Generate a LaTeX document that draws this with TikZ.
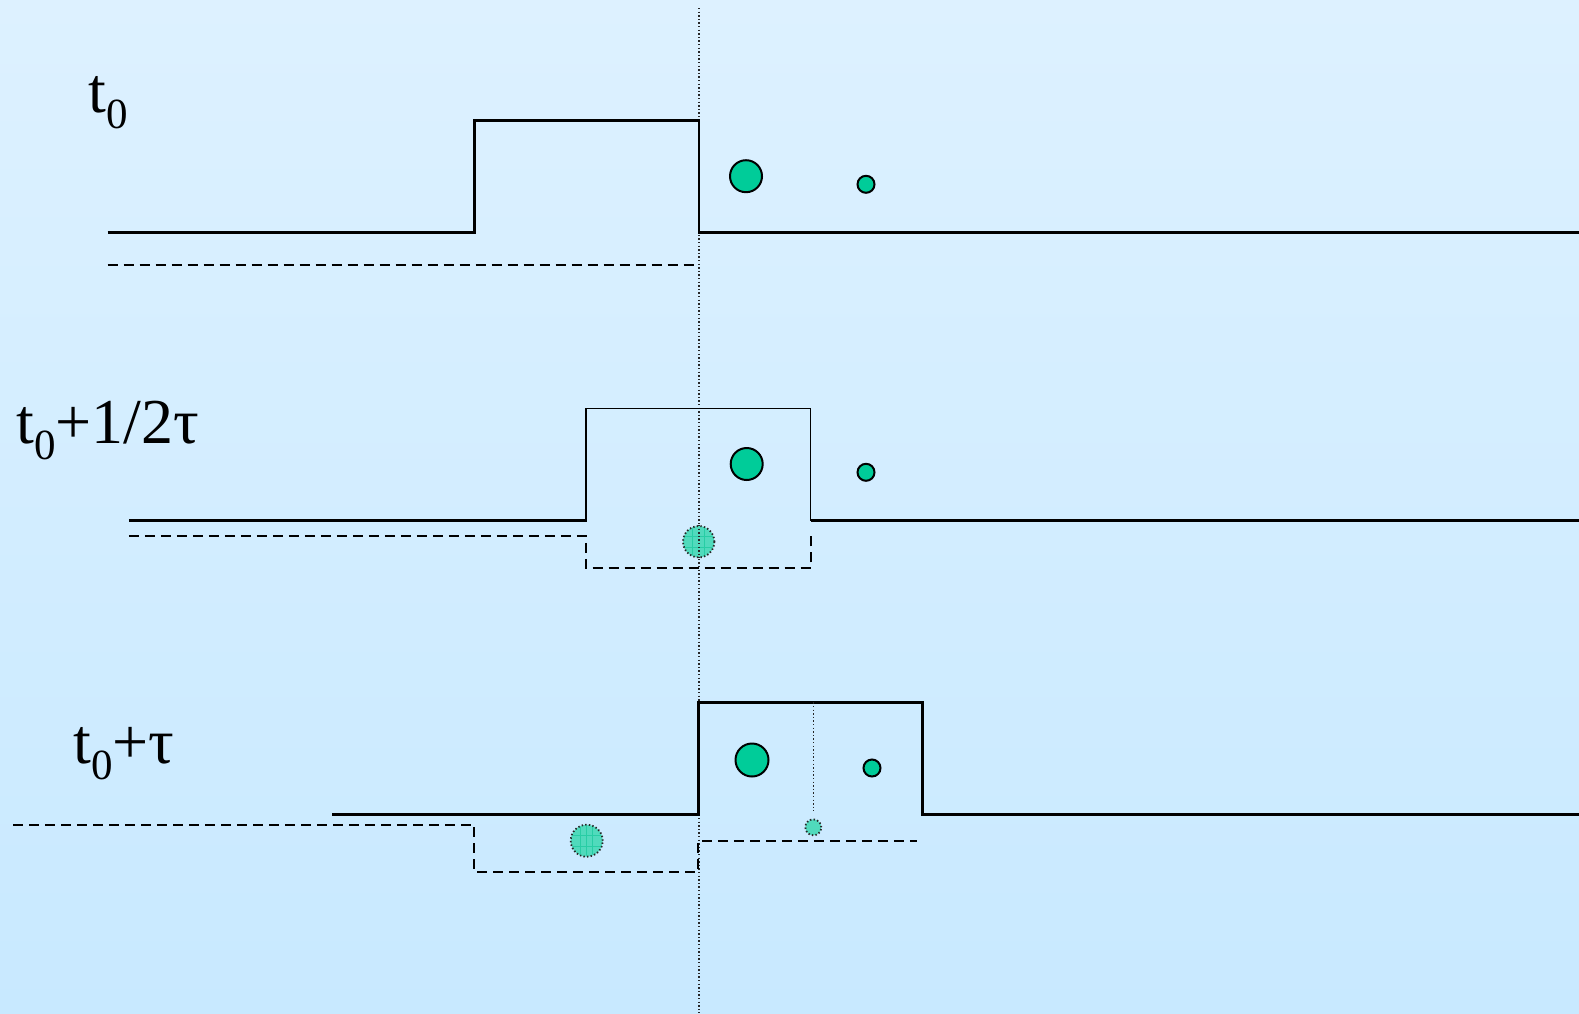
\documentclass[tikz,border=0pt]{standalone}
\usepackage{fontspec}
\setmainfont{Liberation Serif}
\begin{document}
\begin{tikzpicture}[x=0.5pt,y=-0.5pt,
  pulse/.style={line width=1.35pt,black},
  thinpulse/.style={line width=0.7pt,black},
  dashline/.style={line width=0.95pt,black,dash pattern=on 5pt off 3pt},
  guide/.style={line width=0.6pt,black!85,dash pattern=on 0.7pt off 1.1pt},
  ball/.style={circle,draw=black,line width=1pt,fill={rgb,255:red,0;green,204;blue,153},inner sep=0pt},
  ghost/.style={circle,draw=black!85,line width=0.9pt,dash pattern=on 0.7pt off 1.1pt,fill={rgb,255:red,80;green,218;blue,188},inner sep=0pt},
  gridl/.style={line width=0.4pt,color={rgb,255:red,40;green,205;blue,165}},
  lbl/.style={anchor=base west,inner sep=0pt,font=\fontsize{32}{32}\selectfont}
]
\definecolor{bgtop}{RGB}{221,241,255}
\definecolor{bgbot}{RGB}{200,233,255}
\useasboundingbox (0,0) rectangle (1579,1013);
\shade[top color=bgtop,bottom color=bgbot] (0,0) rectangle (1579,1013);

\newcommand{\sub}[1]{\raisebox{-0.26em}{\fontsize{21.5}{21.5}\selectfont #1}}

% labels
\node[lbl] (l1) at (88,112) {t\sub{0}};
\node[lbl] (l2) at (16,443) {t\sub{0}+1/2τ};
\node[lbl] (l3) at (73,763) {t\sub{0}+τ};

% vertical guide
\draw[guide] (699,8) -- (699,1013);

% ---- t0 ----
\draw[pulse] (107.7,232.6) -| (474.3,120.8) -| (698.9,232.6) -- (1579,232.6);
\draw[dashline] (107.7,264.8) -- (698.9,264.8);
\node[ball,minimum size=16pt] (b1) at (746,176.2) {};
\node[ball,minimum size=8.5pt] (s1) at (866,184.3) {};

% ---- t0 + 1/2 tau ----
\draw[pulse] (128.9,520.7) -| (586,408.3);
\draw[thinpulse] (586,408.3) -| (810.7,520.7);
\draw[pulse] (810.7,520.7) -- (1579,520.7);
\draw[dashline] (128.9,536) -- (586,536) -- (586,568.3) -- (810.7,568.3) -- (810.7,536);
\node[ghost,minimum size=15.7pt] (g2) at (698.7,541.7) {};
\begin{scope}
\clip (698.7,541.7) circle [radius=7.4pt];
\draw[gridl] (692.7,520) -- (692.7,565) (704.7,520) -- (704.7,565) (675,536.2) -- (722,536.2) (675,547.2) -- (722,547.2);
\end{scope}
\draw[guide] (699,525) -- (699,558);
\node[ball,minimum size=16pt] (b2) at (746.7,464) {};
\node[ball,minimum size=8.5pt] (s2) at (866,472.3) {};

% ---- t0 + tau ----
\draw[pulse] (332.3,814.3) -- (698.3,814.3) |- (922.7,702.3) -- (922.7,814.3) -- (1579,814.3);
\draw[guide] (813.3,702.3) -- (813.3,810.7);
\draw[dashline] (13,824.7) -- (474.3,824.7) -- (474.3,872.3) -- (698.3,872.3) -- (698.3,840.7) -- (916.7,840.7);
\node[ghost,minimum size=16pt] (g3) at (586.7,840.7) {};
\begin{scope}
\clip (586.7,840.7) circle [radius=7.5pt];
\draw[gridl] (580.7,820) -- (580.7,862) (592.7,820) -- (592.7,862) (565,835) -- (608,835) (565,846) -- (608,846) (586.7,820) -- (586.7,862);
\end{scope}
\node[ghost,minimum size=8pt] (g4) at (813.3,827.3) {};
\node[ball,minimum size=16.5pt] (b3) at (752,760) {};
\node[ball,minimum size=8.5pt] (s3) at (872,768) {};
\end{tikzpicture}
\end{document}
